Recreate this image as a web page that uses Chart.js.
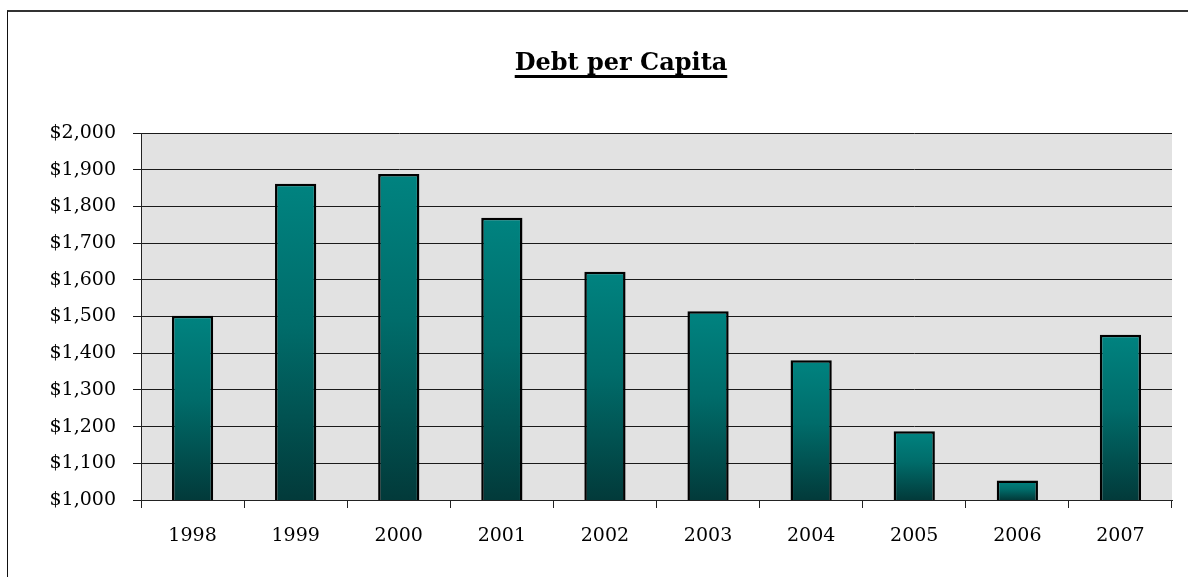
<!DOCTYPE html>
<html>
<head>
<meta charset="utf-8">
<title>Debt per Capita</title>
<script src="https://cdn.jsdelivr.net/npm/chart.js@4"></script>
<style>
  html, body { margin: 0; padding: 0; background: #fff; overflow: hidden; }
  #wrap { position: relative; width: 1188px; height: 577px; }
  #frame {
    position: absolute; left: 7px; top: 10px; width: 1400px; height: 800px;
    border-left: 1px solid #111; border-top: 2px solid #333;
  }
  canvas { position: absolute; left: 0; top: 0; }
</style>
</head>
<body>
<div id="wrap">
  <div id="frame"></div>
  <canvas id="debtChart" width="1188" height="577"></canvas>
</div>
<script>
const years = ["1998", "1999", "2000", "2001", "2002", "2003", "2004", "2005", "2006", "2007"];
const debtPerCapita = [1502, 1862, 1888, 1769, 1622, 1514, 1381, 1187, 1053, 1450];
const yMin = 1000;
const yMax = 2000;
const yStep = 100;

const FONT = "'DejaVu Serif', serif";

// per-bar vertical gradient, teal on top fading to dark at the base
function barFill(ctx) {
  const chart = ctx.chart;
  const y = chart.scales.y;
  if (!y || ctx.parsed == null) return "#007070";
  const top = y.getPixelForValue(ctx.parsed.y);
  const bottom = y.getPixelForValue(yMin);
  if (!isFinite(top) || !isFinite(bottom) || top === bottom) return "#007070";
  const g = chart.ctx.createLinearGradient(0, top, 0, bottom);
  g.addColorStop(0, "#008380");
  g.addColorStop(0.45, "#006c6a");
  g.addColorStop(1, "#023a3a");
  return g;
}

// underlined heading drawn on the canvas
const titlePlugin = {
  id: "underlinedTitle",
  afterDraw(chart) {
    const c = chart.ctx;
    const text = "Debt per Capita";
    c.save();
    c.font = "bold 24px " + FONT;
    c.fillStyle = "#000";
    c.textAlign = "center";
    c.textBaseline = "alphabetic";
    const cx = 621;
    const base = 70;
    c.fillText(text, cx, base);
    const w = c.measureText(text).width;
    c.fillRect(cx - w / 2, base + 5, w, 3);
    c.restore();
  }
};

new Chart(document.getElementById("debtChart"), {
  type: "bar",
  data: {
    labels: years,
    datasets: [{
      data: debtPerCapita,
      backgroundColor: barFill,
      borderColor: "#000",
      borderWidth: 2.5,
      borderSkipped: false,
      barPercentage: 0.8,
      categoryPercentage: 0.5
    }]
  },
  options: {
    responsive: false,
    animation: false,
    devicePixelRatio: 1,
    layout: { padding: { top: 133, right: 16, left: 0, bottom: 0 } },
    plugins: {
      legend: { display: false },
      tooltip: { enabled: false },
      title: { display: false }
    },
    scales: {
      x: {
        offset: true,
        afterFit(scale) { scale.height = 77; },
        grid: {
          offset: true,
          drawOnChartArea: false,
          color: "#222",
          tickLength: 8
        },
        border: { color: "#222", width: 1 },
        ticks: {
          color: "#000",
          padding: 17,
          font: { family: FONT, size: 19 }
        }
      },
      y: {
        min: yMin,
        max: yMax,
        afterFit(scale) { scale.width = 141; },
        grid: {
          color: "#1a1a1a",
          lineWidth: 1,
          tickLength: 8
        },
        border: { color: "#222", width: 1 },
        ticks: {
          stepSize: yStep,
          color: "#000",
          padding: 17,
          font: { family: FONT, size: 19 },
          callback: v => "$" + v.toLocaleString("en-US")
        }
      }
    }
  },
  plugins: [
    {
      id: "plotBackground",
      beforeDraw(chart) {
        const { ctx, chartArea: a } = chart;
        ctx.save();
        ctx.fillStyle = "#e2e2e2";
        ctx.fillRect(a.left, a.top, a.right - a.left, a.bottom - a.top);
        ctx.restore();
      }
    },
    titlePlugin
  ]
});
</script>
</body>
</html>
